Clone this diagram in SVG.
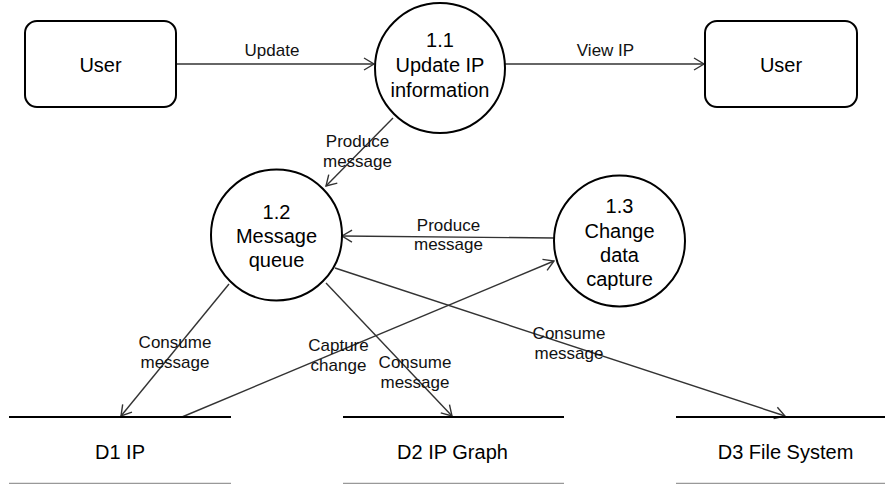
<svg xmlns="http://www.w3.org/2000/svg" width="885" height="484" viewBox="0 0 885 484">
<style>
.node{fill:#fff;stroke:#000;stroke-width:2}
.nt{font-family:"Liberation Sans",Arial,sans-serif;font-size:20px;fill:#000;text-anchor:middle}
.lt{font-family:"Liberation Sans",Arial,sans-serif;font-size:17px;fill:#111;text-anchor:middle}
.edge{fill:none;stroke:#333;stroke-width:1.4}
.store{stroke:#000;stroke-width:2}
.storeb{stroke:#999;stroke-width:1.5}
</style>
<defs>
<marker id="arr" markerUnits="userSpaceOnUse" markerWidth="14" markerHeight="14" refX="11" refY="7" orient="auto">
<path d="M1,1 L11,7 L1,13" fill="none" stroke="#333" stroke-width="1.4"/>
</marker>
</defs>
<g id="connectors">
<line class="edge" x1="176" y1="64" x2="374" y2="64" marker-end="url(#arr)"/>
<line class="edge" x1="505" y1="64" x2="704" y2="64" marker-end="url(#arr)"/>
<line class="edge" x1="393" y1="118" x2="326" y2="186" marker-end="url(#arr)"/>
<line class="edge" x1="554" y1="238" x2="342" y2="236" marker-end="url(#arr)"/>
<line class="edge" x1="229" y1="284" x2="121" y2="416" marker-end="url(#arr)"/>
<line class="edge" x1="182" y1="417" x2="554" y2="261" marker-end="url(#arr)"/>
<line class="edge" x1="326" y1="283" x2="452" y2="416" marker-end="url(#arr)"/>
<line class="edge" x1="335" y1="268" x2="785" y2="416" marker-end="url(#arr)"/>
<text class="lt" x="272" y="56">Update</text>
<text class="lt" x="605.5" y="56">View IP</text>
<text class="lt" x="357.5" y="147">Produce</text>
<text class="lt" x="357.5" y="167">message</text>
<text class="lt" x="448.5" y="231">Produce</text>
<text class="lt" x="448.5" y="250">message</text>
<text class="lt" x="175" y="348">Consume</text>
<text class="lt" x="175" y="368">message</text>
<text class="lt" x="338.5" y="351">Capture</text>
<text class="lt" x="338.5" y="371">change</text>
<text class="lt" x="415" y="368">Consume</text>
<text class="lt" x="415" y="388">message</text>
<text class="lt" x="569" y="339">Consume</text>
<text class="lt" x="569" y="359">message</text>
</g>
<g id="user1">
<rect class="node" x="25" y="21" width="151" height="86" rx="12"/>
<text class="nt" x="100.5" y="72">User</text>
</g>
<g id="user2">
<rect class="node" x="705" y="21" width="152" height="86" rx="12"/>
<text class="nt" x="781" y="72">User</text>
</g>
<g id="p11">
<circle class="node" cx="440" cy="68" r="65"/>
<text class="nt" x="440" y="47">1.1</text>
<text class="nt" x="440" y="72">Update IP</text>
<text class="nt" x="440" y="97">information</text>
</g>
<g id="p12">
<circle class="node" cx="276.5" cy="235" r="65.5"/>
<text class="nt" x="276.5" y="219">1.2</text>
<text class="nt" x="276.5" y="243">Message</text>
<text class="nt" x="276.5" y="267">queue</text>
</g>
<g id="p13">
<circle class="node" cx="619.5" cy="241" r="65.5"/>
<text class="nt" x="619.5" y="213">1.3</text>
<text class="nt" x="619.5" y="238">Change</text>
<text class="nt" x="619.5" y="262">data</text>
<text class="nt" x="619.5" y="286">capture</text>
</g>
<g id="d1">
<line class="store" x1="9" y1="417" x2="231" y2="417"/>
<line class="storeb" x1="9" y1="483.5" x2="231" y2="483.5"/>
<text class="nt" x="120" y="459">D1 IP</text>
</g>
<g id="d2">
<line class="store" x1="343" y1="417" x2="564" y2="417"/>
<line class="storeb" x1="343" y1="483.5" x2="564" y2="483.5"/>
<text class="nt" x="452.5" y="459">D2 IP Graph</text>
</g>
<g id="d3">
<line class="store" x1="676" y1="417" x2="885" y2="417"/>
<line class="storeb" x1="676" y1="483.5" x2="885" y2="483.5"/>
<text class="nt" x="785.5" y="459">D3 File System</text>
</g>
</svg>
